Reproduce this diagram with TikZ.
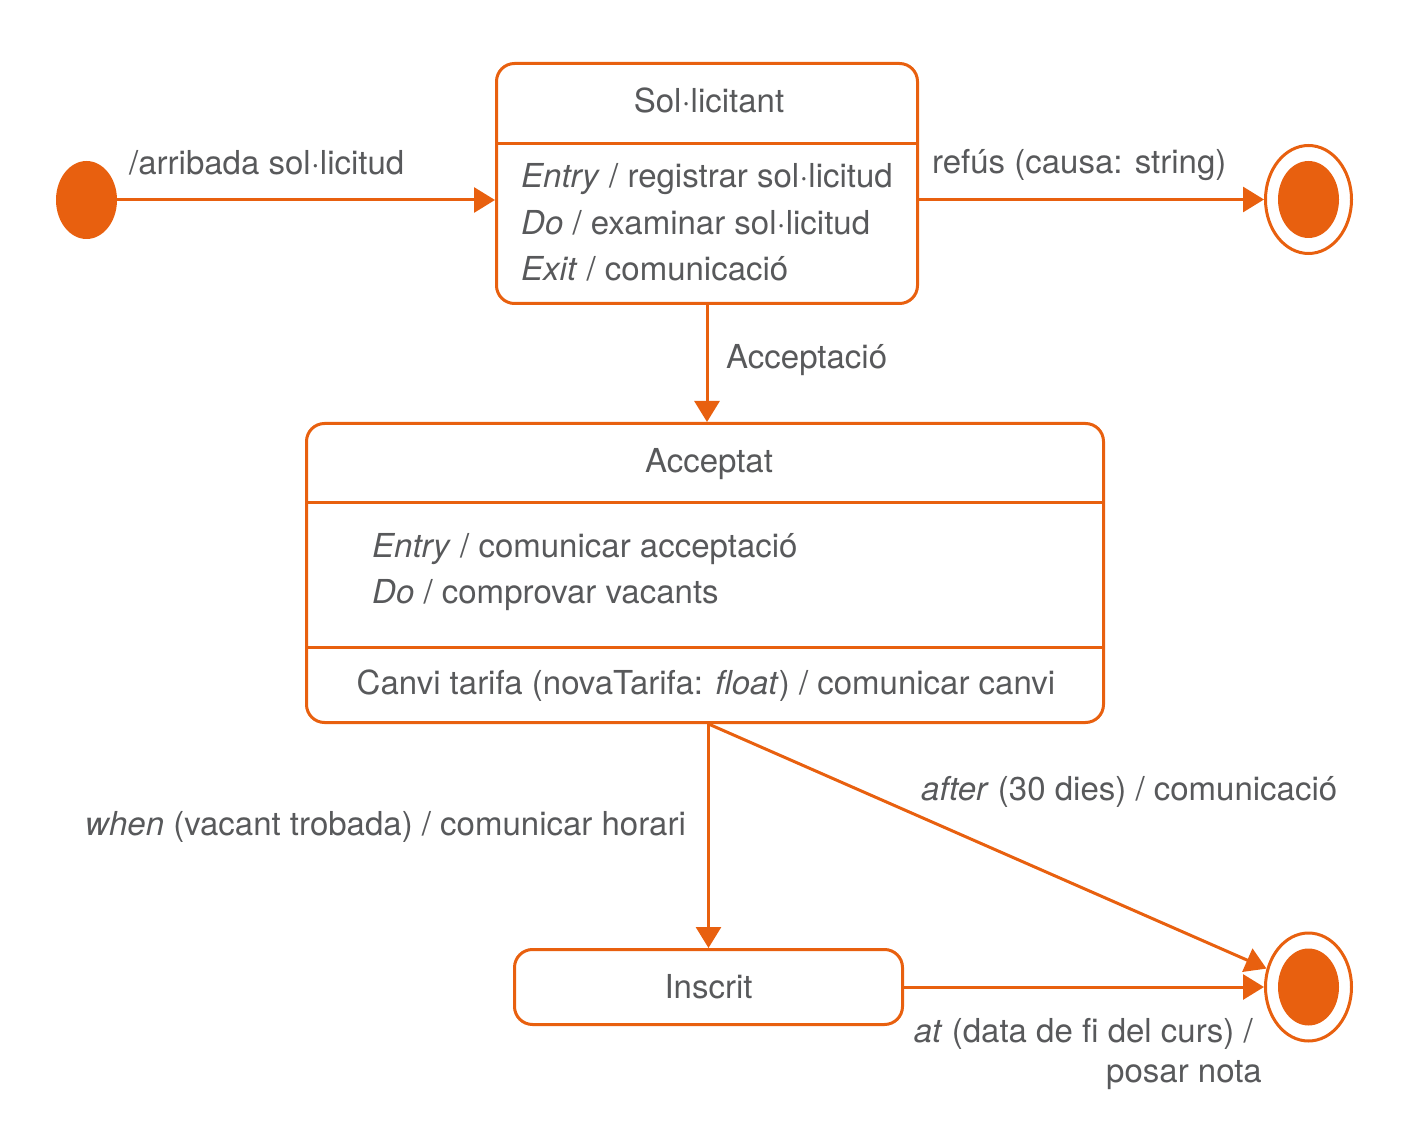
\documentclass[tikz,border=0pt]{standalone}
\usepackage{fontspec}
\setmainfont{TeX Gyre Heros}
\usetikzlibrary{arrows.meta,shapes.geometric}
\definecolor{uor}{HTML}{E8600F}
\definecolor{utx}{HTML}{58595B}
\begin{document}
\begin{tikzpicture}[x=1pt,y=-1pt,
  every node/.style={font=\fontsize{33}{46}\selectfont, text=utx, inner sep=0pt},
  statebox/.style={draw=uor, line width=3pt, rounded corners=18pt, rectangle},
  ini/.style={ellipse, fill=uor, minimum width=61pt, minimum height=78pt},
  finout/.style={ellipse, draw=uor, line width=3pt, minimum width=86pt, minimum height=108pt},
  finin/.style={ellipse, fill=uor, minimum width=61pt, minimum height=77pt},
  tr/.style={draw=uor, line width=3pt, -{Triangle[length=21pt,width=25pt]}},
  sepline/.style={draw=uor, line width=3pt},
  lbl/.style={anchor=base west},
  lble/.style={anchor=base east},
]
\useasboundingbox (0,0) rectangle (1417,1139);

% states
\node[ini] (init) at (86.5,200) {};
\node[statebox, minimum width=421pt, minimum height=240pt] (sol) at (707,183.5) {};
\node[finout] (fin1) at (1308.5,199.5) {};
\node[finin] (fin1in) at (1308.5,199.5) {};
\node[statebox, minimum width=797pt, minimum height=299pt] (acc) at (705,573) {};
\node[statebox, minimum width=388pt, minimum height=75pt] (ins) at (708.5,987) {Inscrit};
\node[finout] (fin2) at (1308.5,987) {};
\node[finin] (fin2in) at (1308.5,987) {};

% compartments
\coordinate (d1) at (0,144);
\coordinate (d2) at (0,502);
\coordinate (d3) at (0,647);
\draw[sepline] (sol.west |- d1) -- (sol.east |- d1);
\draw[sepline] (acc.west |- d2) -- (acc.east |- d2);
\draw[sepline] (acc.west |- d3) -- (acc.east |- d3);

\node[anchor=base] (solt) at (709,113) {Sol·licitant};
\node[lbl] (sol1) at (521,188) {\textit{Entry} / registrar sol·licitud};
\node[lbl] (sol2) at (521,235) {\textit{Do} / examinar sol·licitud};
\node[lbl] (sol3) at (521,281) {\textit{Exit} / comunicació};

\node[anchor=base] (acct) at (709,473) {Acceptat};
\node[lbl] (acc1) at (372,557) {\textit{Entry} / comunicar acceptació};
\node[lbl] (acc2) at (372,603) {\textit{Do} / comprovar vacants};
\node[anchor=base] (acc3) at (706,694) {Canvi tarifa (novaTarifa: \textit{float}) / comunicar canvi};

% transitions
\draw[tr] (init) -- (init -| sol.west);
\draw[tr] (sol.east |- fin1) -- (fin1);
\draw[tr] (sol.south) -- (sol.south |- acc.north);
\draw[tr] (ins |- acc.south) -- (ins);
\draw[tr] (ins |- acc.south) -- (fin2);
\draw[tr] (ins) -- (fin2);

% labels
\node[lbl] (larr) at (129,175) {/arribada sol·licitud};
\node[lbl] (lref) at (932,174) {refús (causa: string)};
\node[lbl] (lacc) at (726,369) {Acceptació};
\node[lble] (lwhen) at (686,835) {\textit{when} (vacant trobada) / comunicar horari};
\node[lbl] (lafter) at (921,800) {\textit{after} (30 dies) / comunicació};
\node[anchor=north east, align=right, font=\fontsize{33}{40}\selectfont] (lat) at (1262,1018) {\textit{at} (data de fi del curs) /\hspace*{9pt}\\posar nota};
\end{tikzpicture}
\end{document}
